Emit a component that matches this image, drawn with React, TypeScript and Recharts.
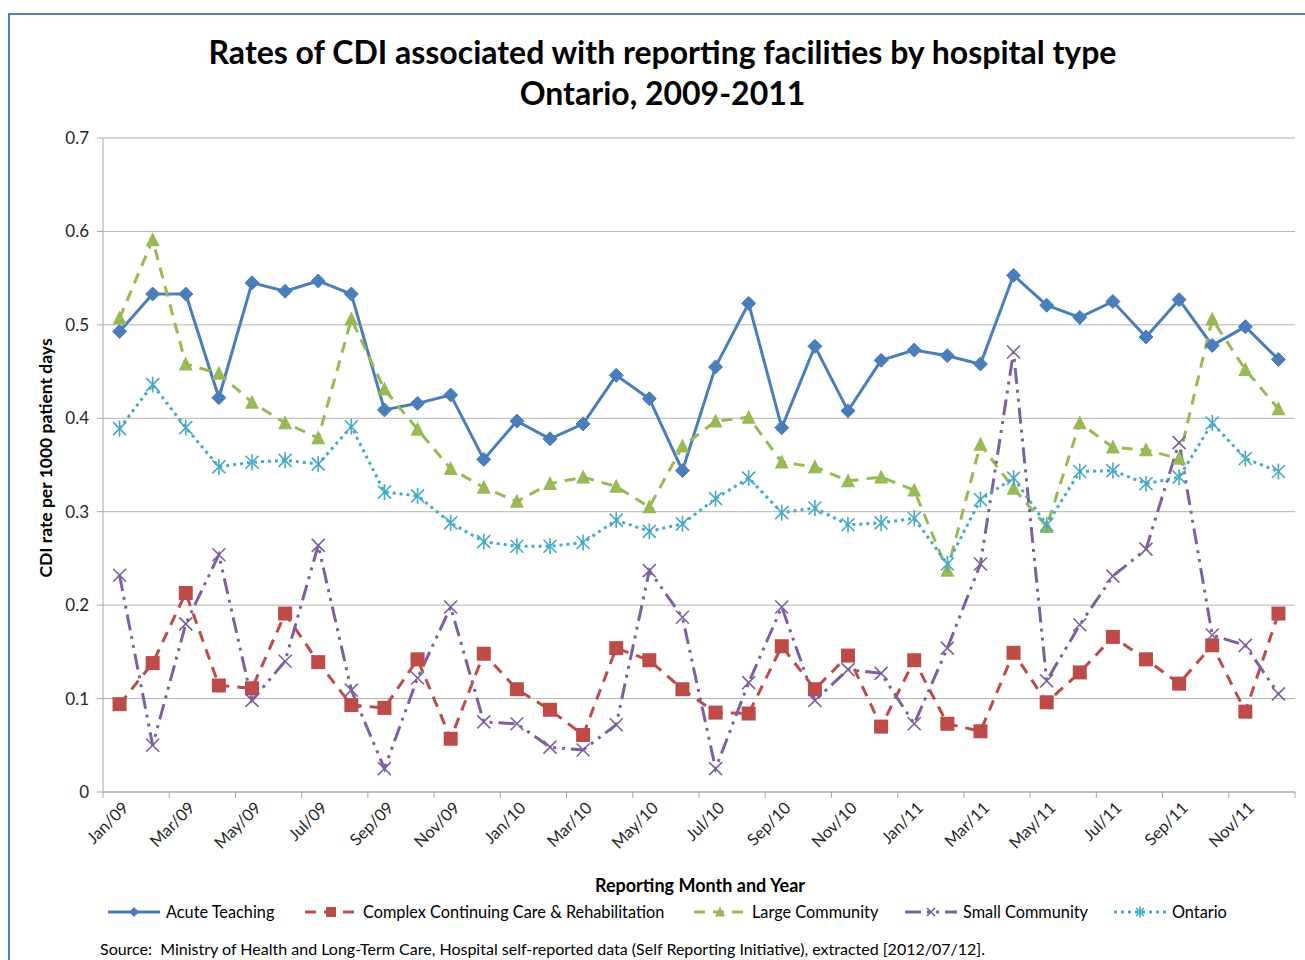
import React from 'react';
import { LineChart, Line, XAxis, YAxis, CartesianGrid } from 'recharts';

const months = [
  'Jan/09', 'Feb/09', 'Mar/09', 'Apr/09', 'May/09', 'Jun/09', 'Jul/09', 'Aug/09', 'Sep/09', 'Oct/09', 'Nov/09', 'Dec/09',
  'Jan/10', 'Feb/10', 'Mar/10', 'Apr/10', 'May/10', 'Jun/10', 'Jul/10', 'Aug/10', 'Sep/10', 'Oct/10', 'Nov/10', 'Dec/10',
  'Jan/11', 'Feb/11', 'Mar/11', 'Apr/11', 'May/11', 'Jun/11', 'Jul/11', 'Aug/11', 'Sep/11', 'Oct/11', 'Nov/11', 'Dec/11',
];

const acuteTeaching = [
  0.493, 0.533, 0.533, 0.422, 0.545, 0.536, 0.547, 0.533, 0.409, 0.416, 0.425, 0.356,
  0.397, 0.378, 0.394, 0.446, 0.421, 0.344, 0.455, 0.523, 0.390, 0.477, 0.408, 0.462,
  0.473, 0.467, 0.458, 0.553, 0.521, 0.508, 0.525, 0.487, 0.527, 0.478, 0.498, 0.463,
];
const complexCare = [
  0.094, 0.138, 0.213, 0.114, 0.111, 0.191, 0.139, 0.093, 0.090, 0.142, 0.057, 0.148,
  0.110, 0.088, 0.061, 0.154, 0.141, 0.110, 0.085, 0.084, 0.156, 0.110, 0.146, 0.070,
  0.141, 0.073, 0.065, 0.149, 0.096, 0.128, 0.166, 0.142, 0.116, 0.157, 0.086, 0.191,
];
const largeCommunity = [
  0.507, 0.591, 0.458, 0.448, 0.417, 0.395, 0.379, 0.506, 0.431, 0.388, 0.346, 0.326,
  0.311, 0.330, 0.337, 0.327, 0.305, 0.370, 0.397, 0.401, 0.353, 0.348, 0.333, 0.337,
  0.323, 0.237, 0.372, 0.325, 0.284, 0.395, 0.369, 0.366, 0.357, 0.506, 0.452, 0.410,
];
const smallCommunity = [
  0.232, 0.050, 0.180, 0.254, 0.098, 0.140, 0.264, 0.109, 0.025, 0.122, 0.198, 0.075,
  0.073, 0.048, 0.045, 0.072, 0.237, 0.187, 0.025, 0.117, 0.198, 0.098, 0.131, 0.127,
  0.073, 0.154, 0.244, 0.471, 0.119, 0.179, 0.231, 0.260, 0.374, 0.168, 0.157, 0.105,
];
const ontario = [
  0.389, 0.436, 0.390, 0.348, 0.353, 0.355, 0.351, 0.391, 0.321, 0.317, 0.288, 0.268,
  0.263, 0.263, 0.267, 0.291, 0.279, 0.287, 0.314, 0.336, 0.299, 0.304, 0.286, 0.288,
  0.293, 0.244, 0.313, 0.336, 0.286, 0.343, 0.344, 0.330, 0.337, 0.395, 0.357, 0.343,
];

const yTicks = [0, 0.1, 0.2, 0.3, 0.4, 0.5, 0.6, 0.7];
// tick marks sit between categories, one every two months
const xBoundaries = Array.from({ length: 19 }, (_, k) => k * 2 - 0.5);

const data = months.map((m, i) => ({
  idx: i,
  month: m,
  acute: acuteTeaching[i],
  ccc: complexCare[i],
  large: largeCommunity[i],
  small: smallCommunity[i],
  ontario: ontario[i],
}));

const FONT = 'Lato, "Open Sans", sans-serif';
const BLUE = '#4A7EBB';
const RED = '#BE4B48';
const GREEN = '#98B954';
const PURPLE = '#7D60A0';
const CYAN = '#46AAC5';
const AXIS = '#A6A6A6';

const PLOT_WIDTH = 1192;
const HALF = PLOT_WIDTH / months.length / 2;

// note: recharts passes its own `r` to dots, so marker size uses `size`
const Diamond = ({ cx, cy, size = 7, color = BLUE }: any) =>
  cx == null ? null : (
    <polygon
      points={`${cx},${cy - size} ${cx + size},${cy} ${cx},${cy + size} ${cx - size},${cy}`}
      fill={color}
      stroke={color}
    />
  );

const Square = ({ cx, cy, size = 14, color = RED }: any) =>
  cx == null ? null : <rect x={cx - size / 2} y={cy - size / 2} width={size} height={size} fill={color} />;

const Triangle = ({ cx, cy, size = 14, color = GREEN }: any) =>
  cx == null ? null : (
    <polygon
      points={`${cx},${cy - size * 0.55} ${cx + size / 2},${cy + size * 0.45} ${cx - size / 2},${cy + size * 0.45}`}
      fill={color}
    />
  );

const Cross = ({ cx, cy, size = 6.5, color = PURPLE }: any) =>
  cx == null ? null : (
    <g stroke={color} strokeWidth={1.6}>
      <line x1={cx - size} y1={cy - size} x2={cx + size} y2={cy + size} />
      <line x1={cx - size} y1={cy + size} x2={cx + size} y2={cy - size} />
    </g>
  );

const Star = ({ cx, cy, size = 6.5, color = CYAN }: any) =>
  cx == null ? null : (
    <g stroke={color} strokeWidth={1.6}>
      <line x1={cx - size} y1={cy - size} x2={cx + size} y2={cy + size} />
      <line x1={cx - size} y1={cy + size} x2={cx + size} y2={cy - size} />
      <line x1={cx} y1={cy - size - 1.5} x2={cx} y2={cy + size + 1.5} />
    </g>
  );

function MonthTick(props: any) {
  const { x, y, payload } = props;
  const idx = Math.round(payload.value + 0.5);
  const label = idx < months.length ? months[idx] : null;
  const tx = x + HALF + 10;
  const ty = y + 17;
  return (
    <g>
      <line x1={x} y1={y} x2={x} y2={y + 6} stroke={AXIS} />
      {label && (
        <text
          x={tx}
          y={ty}
          transform={`rotate(-45 ${tx} ${ty})`}
          textAnchor="end"
          fontSize={16.5}
          fill="#262626"
          fontFamily={FONT}
        >
          {label}
        </text>
      )}
    </g>
  );
}

const legendItems = [
  { name: 'Acute Teaching', color: BLUE, dash: undefined, marker: 'diamond', left: 108 },
  { name: 'Complex Continuing Care & Rehabilitation', color: RED, dash: '11 8', marker: 'square', left: 305 },
  { name: 'Large Community', color: GREEN, dash: '11 8', marker: 'triangle', left: 694 },
  { name: 'Small Community', color: PURPLE, dash: '16 6 3 6 3 6', marker: 'cross', left: 905 },
  { name: 'Ontario', color: CYAN, dash: '3 4', marker: 'star', left: 1114 },
];

function LegendIcon({ item }: any) {
  const cx = 26;
  const cy = 8;
  return (
    <svg width={52} height={16} style={{ display: 'block' }}>
      <line x1={0} y1={cy} x2={52} y2={cy} stroke={item.color} strokeWidth={3} strokeDasharray={item.dash} />
      {item.marker === 'diamond' && <Diamond cx={cx} cy={cy} size={4.5} />}
      {item.marker === 'square' && <Square cx={cx} cy={cy} size={10} />}
      {item.marker === 'triangle' && <Triangle cx={cx} cy={cy} size={10} />}
      {item.marker === 'cross' && <Cross cx={cx} cy={cy} size={4} />}
      {item.marker === 'star' && <Star cx={cx} cy={cy} size={4} />}
    </svg>
  );
}

export default function App() {
  return (
    <div
      style={{
        position: 'absolute',
        left: 0,
        top: 0,
        width: 1305,
        height: 960,
        overflow: 'hidden',
        background: '#fff',
        fontFamily: FONT,
        color: '#000',
      }}
    >
      <div
        style={{
          position: 'absolute',
          left: 8,
          top: 13,
          width: 1400,
          height: 1100,
          border: '2px solid #4F81BD',
          boxSizing: 'border-box',
        }}
      />
      <div
        style={{
          position: 'absolute',
          left: 0,
          width: 1325,
          top: 31,
          textAlign: 'center',
          fontWeight: 700,
          fontSize: 32,
          lineHeight: '41px',
        }}
      >
        Rates of CDI associated with reporting facilities by hospital type
        <br />
        Ontario, 2009-2011
      </div>

      <LineChart
        width={1305}
        height={960}
        data={data}
        margin={{ top: 138, right: 10, bottom: 108, left: 43 }}
        style={{ position: 'absolute', left: 0, top: 0 }}
      >
        <CartesianGrid horizontal vertical={false} stroke="#B3B3B3" />
        <XAxis
          dataKey="idx"
          type="number"
          domain={[-0.5, 35.5]}
          ticks={xBoundaries}
          interval={0}
          tick={<MonthTick />}
          tickLine={false}
          tickSize={0}
          tickMargin={0}
          height={60}
          axisLine={{ stroke: AXIS }}
        />
        <YAxis
          domain={[0, 0.7]}
          ticks={yTicks}
          interval={0}
          width={60}
          tickSize={6}
          tickMargin={8}
          tickFormatter={(v: number) => (v === 0 ? '0' : v.toFixed(1))}
          tick={{ fontSize: 17, fill: '#262626', fontFamily: FONT }}
          axisLine={{ stroke: AXIS }}
          tickLine={{ stroke: AXIS }}
        />
        <Line
          dataKey="acute"
          stroke={BLUE}
          strokeWidth={3}
          dot={<Diamond />}
          isAnimationActive={false}
        />
        <Line
          dataKey="ccc"
          stroke={RED}
          strokeWidth={3}
          strokeDasharray="11 8"
          dot={<Square />}
          isAnimationActive={false}
        />
        <Line
          dataKey="large"
          stroke={GREEN}
          strokeWidth={3}
          strokeDasharray="11 8"
          dot={<Triangle />}
          isAnimationActive={false}
        />
        <Line
          dataKey="small"
          stroke={PURPLE}
          strokeWidth={3}
          strokeDasharray="16 6 3 6 3 6"
          dot={<Cross />}
          isAnimationActive={false}
        />
        <Line
          dataKey="ontario"
          stroke={CYAN}
          strokeWidth={3}
          strokeDasharray="3 4"
          dot={<Star />}
          isAnimationActive={false}
        />
      </LineChart>

      <div
        style={{
          position: 'absolute',
          left: 45,
          top: 458,
          transform: 'translate(-50%, -50%) rotate(-90deg)',
          whiteSpace: 'nowrap',
          fontWeight: 700,
          fontSize: 17.5,
        }}
      >
        CDI rate per 1000 patient days
      </div>

      <div
        style={{
          position: 'absolute',
          left: 0,
          width: 1400,
          top: 874,
          textAlign: 'center',
          fontWeight: 700,
          fontSize: 18,
        }}
      >
        Reporting Month and Year
      </div>

      {legendItems.map((item) => (
        <div
          key={item.name}
          style={{
            position: 'absolute',
            left: item.left,
            top: 902,
            display: 'flex',
            alignItems: 'center',
            gap: 6,
            fontSize: 16.3,
            whiteSpace: 'nowrap',
          }}
        >
          <LegendIcon item={item} />
          <span>{item.name}</span>
        </div>
      ))}

      <div style={{ position: 'absolute', left: 100, top: 939, fontSize: 16, whiteSpace: 'nowrap' }}>
        Source:&nbsp; Ministry of Health and Long-Term Care, Hospital self-reported data (Self Reporting Initiative), extracted [2012/07/12].
      </div>
    </div>
  );
}
